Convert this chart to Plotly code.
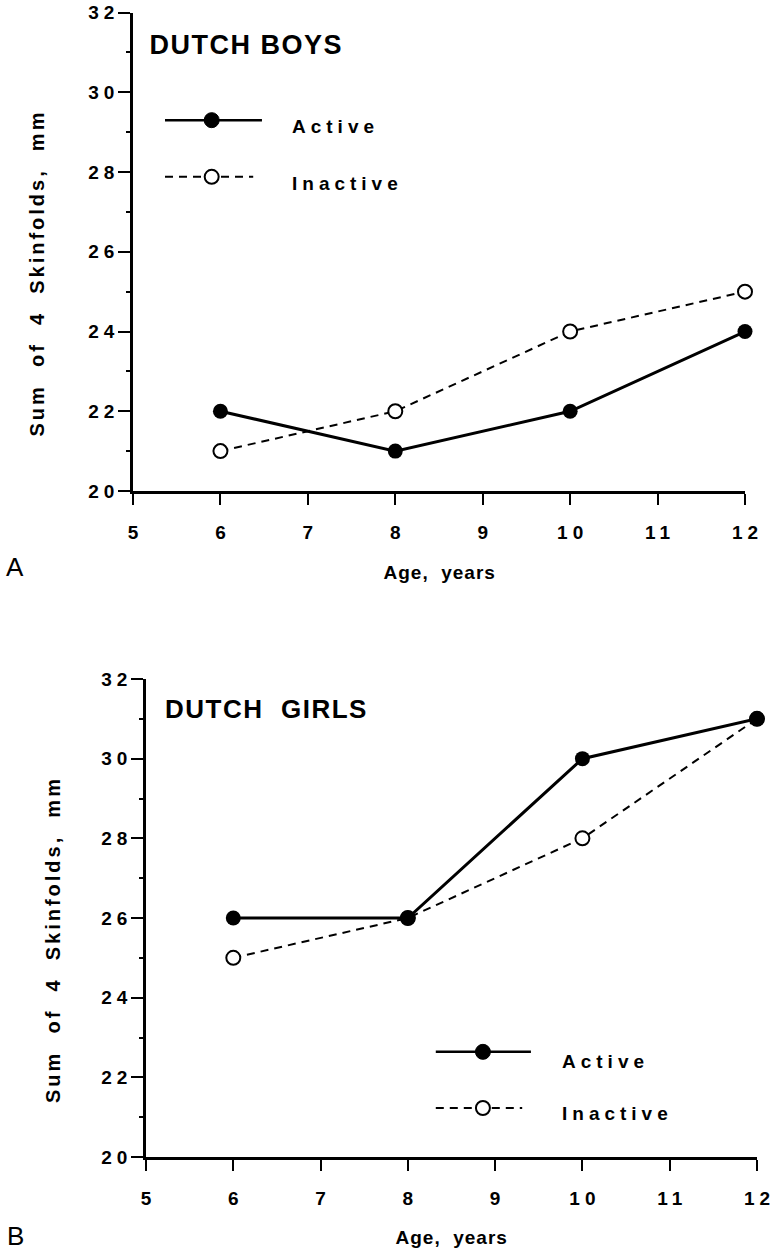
import plotly.graph_objects as go

# ---- data ----
ages = [6, 8, 10, 12]
boys_active = [22, 21, 22, 24]
boys_inactive = [21, 22, 24, 25]
girls_active = [26, 26, 30, 31]
girls_inactive = [25, 26, 28, 31]
x_ticks = [5, 6, 7, 8, 9, 10, 11, 12]
y_ticks = [20, 22, 24, 26, 28, 30, 32]
series_names = ["Active", "Inactive"]
panel_titles = ["DUTCH BOYS", "DUTCH  GIRLS"]
panel_letters = ["A", "B"]
y_title = "Sum  of  4  Skinfolds,  mm"
x_title = "Age,  years"

W, H = 777, 1253
FONT = "Liberation Sans, Arial, Helvetica, sans-serif"

fig = go.Figure()

def add_panel(xa, ya, active, inactive):
    fig.add_trace(go.Scatter(
        x=ages, y=inactive, mode="lines+markers", xaxis=xa, yaxis=ya,
        line=dict(color="black", width=2, dash="8px,6px"),
        marker=dict(symbol="circle", size=14, color="white",
                    line=dict(color="black", width=2)),
        cliponaxis=False, showlegend=False, name=series_names[1]))
    fig.add_trace(go.Scatter(
        x=ages, y=active, mode="lines+markers", xaxis=xa, yaxis=ya,
        line=dict(color="black", width=3),
        marker=dict(symbol="circle", size=15, color="black"),
        cliponaxis=False, showlegend=False, name=series_names[0]))

add_panel("x", "y", boys_active, boys_inactive)
add_panel("x2", "y2", girls_active, girls_inactive)

def xaxis_cfg(domain, anchor):
    return dict(domain=domain, anchor=anchor, range=[5, 12], tickvals=x_ticks,
                ticks="outside", ticklen=11, tickwidth=2, tickcolor="black",
                showline=True, linewidth=2.5, linecolor="black",
                showgrid=False, zeroline=False, automargin=False,
                ticklabelstandoff=11,
                tickfont=dict(family=FONT, size=19, color="black", weight="bold"))

def yaxis_cfg(domain, anchor):
    return dict(domain=domain, anchor=anchor, range=[20, 32], tickvals=y_ticks,
                ticks="outside", ticklen=12, tickwidth=2, tickcolor="black",
                minor=dict(ticks="outside", ticklen=4, tickwidth=1.5,
                           tickcolor="black", dtick=1, tick0=21),
                showline=True, linewidth=2.5, linecolor="black",
                showgrid=False, zeroline=False, automargin=False,
                ticklabelstandoff=0,
                tickfont=dict(family=FONT, size=19, color="black", weight="bold"))

fig.update_layout(
    width=W, height=H,
    margin=dict(l=0, r=0, t=0, b=0),
    paper_bgcolor="white", plot_bgcolor="white",
    xaxis=xaxis_cfg([133 / W, 745 / W], "y"),
    yaxis=yaxis_cfg([1 - 491 / H, 1 - 12.5 / H], "x"),
    xaxis2=xaxis_cfg([146 / W, 757 / W], "y2"),
    yaxis2=yaxis_cfg([1 - 1157 / H, 1 - 679 / H], "x2"),
)

shapes = []
annotations = []

def legend_block(xr, yr, x0, x1, xm, ya, yi, xt_a, xt_i, yta, yti):
    # Active key: solid line with filled dot
    shapes.append(dict(type="line", xref=xr, yref=yr, x0=x0, x1=x1, y0=ya, y1=ya,
                       line=dict(color="black", width=2.5)))
    shapes.append(dict(type="circle", xref=xr, yref=yr, xsizemode="pixel",
                       ysizemode="pixel", xanchor=xm, yanchor=ya,
                       x0=-7.5, x1=7.5, y0=-7.5, y1=7.5,
                       fillcolor="black", line=dict(color="black", width=1)))
    # Inactive key: dashed line with open dot
    shapes.append(dict(type="line", xref=xr, yref=yr, x0=x0, x1=x1 - 0.1, y0=yi, y1=yi,
                       line=dict(color="black", width=2, dash="8px,6px")))
    shapes.append(dict(type="circle", xref=xr, yref=yr, xsizemode="pixel",
                       ysizemode="pixel", xanchor=xm, yanchor=yi,
                       x0=-7, x1=7, y0=-7, y1=7,
                       fillcolor="white", line=dict(color="black", width=2)))
    for name, xx, yy in zip(series_names, [xt_a, xt_i], [yta, yti]):
        annotations.append(dict(xref=xr, yref=yr, x=xx, y=yy, text=name,
                                showarrow=False, xanchor="left", yanchor="middle",
                                font=dict(family=FONT, size=19, color="black",
                                          weight="bold")))

legend_block("x", "y", 5.366, 6.475, 5.90, 29.30, 27.88, 6.97, 7.03, 29.14, 27.72)
legend_block("x2", "y2", 8.32, 9.41, 8.86, 22.64, 21.23, 9.91, 9.97, 22.41, 21.10)

# panel titles
annotations.append(dict(xref="x", yref="y", x=5.255, y=31.18, text=panel_titles[0],
                        showarrow=False, xanchor="left", yanchor="middle",
                        font=dict(family=FONT, size=27, color="black", weight="bold")))
annotations.append(dict(xref="x2", yref="y2", x=5.30, y=31.25, text=panel_titles[1],
                        showarrow=False, xanchor="left", yanchor="middle",
                        font=dict(family=FONT, size=26, color="black", weight="bold")))

# axis titles and panel letters
for (yx, yy), (xx, xy), (lx, ly), letter in [
        ((37, 273.5), (439, 572), (15, 567), panel_letters[0]),
        ((53, 940), (451.5, 1237), (15, 1236), panel_letters[1])]:
    annotations.append(dict(xref="paper", yref="paper", x=yx / W, y=1 - yy / H,
                            text=y_title, textangle=-90, showarrow=False,
                            xanchor="center", yanchor="middle",
                            font=dict(family=FONT, size=20, color="black", weight="bold")))
    annotations.append(dict(xref="paper", yref="paper", x=xx / W, y=1 - xy / H,
                            text=x_title, showarrow=False,
                            xanchor="center", yanchor="middle",
                            font=dict(family=FONT, size=19, color="black", weight="bold")))
    annotations.append(dict(xref="paper", yref="paper", x=lx / W, y=1 - ly / H,
                            text=letter, showarrow=False,
                            xanchor="center", yanchor="middle",
                            font=dict(family=FONT, size=26, color="black")))

fig.update_layout(shapes=shapes, annotations=annotations)

post = """
document.documentElement.style.margin = '0';
document.documentElement.style.padding = '0';
document.body.style.margin = '0';
document.body.style.padding = '0';
document.body.style.overflow = 'hidden';
var gd = document.getElementById('{plot_id}');
function spacing() {
  gd.querySelectorAll('.yaxislayer-above text').forEach(function(t){
    t.style.letterSpacing = '5px'; t.setAttribute('dx', '5');
  });
  gd.querySelectorAll('.xaxislayer-above text').forEach(function(t){
    t.style.letterSpacing = '5px'; t.setAttribute('dx', '2.5');
  });
  var map = {'Active': '5px', 'Inactive': '5px', 'DUTCH BOYS': '1.5px', 'DUTCH  GIRLS': '1.5px',
             'DUTCH GIRLS': '1.5px', 'Age,  years': '1px', 'Age, years': '1px'};
  gd.querySelectorAll('.annotation-text').forEach(function(t){
    var s = t.textContent;
    if (map[s] !== undefined) { t.style.letterSpacing = map[s]; }
    else if (s.indexOf('Skinfolds') >= 0) { t.style.letterSpacing = '3px'; }
  });
}
spacing();
"""

fig.write_html("out.html", post_script=post, config={"displayModeBar": False})
